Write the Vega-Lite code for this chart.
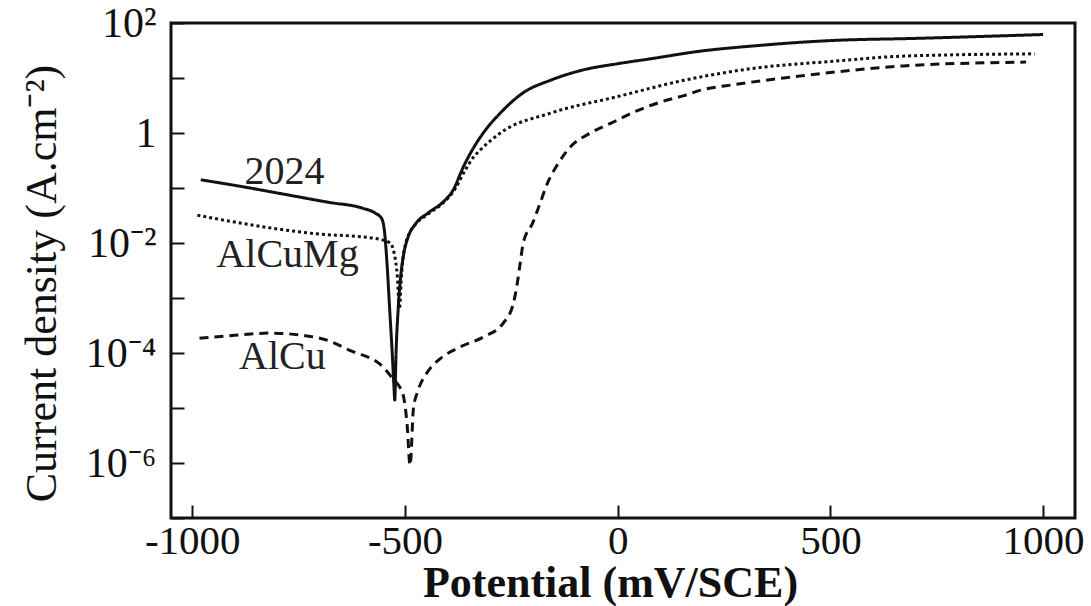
{
  "$schema": "https://vega.github.io/schema/vega-lite/v6.json",
  "width": 904,
  "height": 495,
  "autosize": {"type": "none"},
  "padding": {"left": 171, "top": 23, "right": 16, "bottom": 88},
  "background": "white",
  "config": {"view": {"stroke": "#111", "strokeWidth": 3}, "font": "Liberation Serif"},
  "datasets": {
    "curves": [
      {"alloy": "2024", "potential": -980, "current": 0.141},
      {"alloy": "2024", "potential": -880, "current": 0.105},
      {"alloy": "2024", "potential": -780, "current": 0.076},
      {"alloy": "2024", "potential": -680, "current": 0.055},
      {"alloy": "2024", "potential": -600, "current": 0.043},
      {"alloy": "2024", "potential": -570, "current": 0.035},
      {"alloy": "2024", "potential": -555, "current": 0.028},
      {"alloy": "2024", "potential": -548, "current": 0.0158},
      {"alloy": "2024", "potential": -542, "current": 0.004},
      {"alloy": "2024", "potential": -536, "current": 0.00063},
      {"alloy": "2024", "potential": -530, "current": 0.0001},
      {"alloy": "2024", "potential": -526, "current": 0.000025},
      {"alloy": "2024", "potential": -524, "current": 0.000014},
      {"alloy": "2024", "potential": -521, "current": 0.0001},
      {"alloy": "2024", "potential": -516, "current": 0.00063},
      {"alloy": "2024", "potential": -510, "current": 0.0025},
      {"alloy": "2024", "potential": -503, "current": 0.0063},
      {"alloy": "2024", "potential": -493, "current": 0.0126},
      {"alloy": "2024", "potential": -475, "current": 0.0224},
      {"alloy": "2024", "potential": -445, "current": 0.0355},
      {"alloy": "2024", "potential": -410, "current": 0.056},
      {"alloy": "2024", "potential": -387, "current": 0.091},
      {"alloy": "2024", "potential": -363, "current": 0.24},
      {"alloy": "2024", "potential": -340, "current": 0.52},
      {"alloy": "2024", "potential": -316, "current": 1.0},
      {"alloy": "2024", "potential": -276, "current": 2.3},
      {"alloy": "2024", "potential": -222, "current": 5.4},
      {"alloy": "2024", "potential": -158, "current": 9.1},
      {"alloy": "2024", "potential": -80, "current": 14.1},
      {"alloy": "2024", "potential": 0, "current": 18.2},
      {"alloy": "2024", "potential": 78, "current": 22.4},
      {"alloy": "2024", "potential": 196, "current": 30.9},
      {"alloy": "2024", "potential": 314, "current": 38},
      {"alloy": "2024", "potential": 500, "current": 47.9},
      {"alloy": "2024", "potential": 700, "current": 52.5},
      {"alloy": "2024", "potential": 1000, "current": 61.7},
      {"alloy": "AlCuMg", "potential": -988, "current": 0.032},
      {"alloy": "AlCuMg", "potential": -900, "current": 0.024},
      {"alloy": "AlCuMg", "potential": -800, "current": 0.018},
      {"alloy": "AlCuMg", "potential": -700, "current": 0.0145},
      {"alloy": "AlCuMg", "potential": -600, "current": 0.0129},
      {"alloy": "AlCuMg", "potential": -560, "current": 0.0117},
      {"alloy": "AlCuMg", "potential": -535, "current": 0.01},
      {"alloy": "AlCuMg", "potential": -525, "current": 0.0063},
      {"alloy": "AlCuMg", "potential": -518, "current": 0.0025},
      {"alloy": "AlCuMg", "potential": -513, "current": 0.00063},
      {"alloy": "AlCuMg", "potential": -509, "current": 0.002},
      {"alloy": "AlCuMg", "potential": -505, "current": 0.005},
      {"alloy": "AlCuMg", "potential": -498, "current": 0.01},
      {"alloy": "AlCuMg", "potential": -488, "current": 0.0158},
      {"alloy": "AlCuMg", "potential": -470, "current": 0.024},
      {"alloy": "AlCuMg", "potential": -445, "current": 0.034},
      {"alloy": "AlCuMg", "potential": -410, "current": 0.054},
      {"alloy": "AlCuMg", "potential": -385, "current": 0.089},
      {"alloy": "AlCuMg", "potential": -360, "current": 0.2},
      {"alloy": "AlCuMg", "potential": -340, "current": 0.355},
      {"alloy": "AlCuMg", "potential": -323, "current": 0.49},
      {"alloy": "AlCuMg", "potential": -276, "current": 1.0},
      {"alloy": "AlCuMg", "potential": -158, "current": 2.3},
      {"alloy": "AlCuMg", "potential": 0, "current": 4.6},
      {"alloy": "AlCuMg", "potential": 156, "current": 9.1},
      {"alloy": "AlCuMg", "potential": 314, "current": 14.8},
      {"alloy": "AlCuMg", "potential": 500, "current": 20},
      {"alloy": "AlCuMg", "potential": 672, "current": 25},
      {"alloy": "AlCuMg", "potential": 980, "current": 27.5},
      {"alloy": "AlCu", "potential": -983, "current": 0.000186},
      {"alloy": "AlCu", "potential": -900, "current": 0.00021},
      {"alloy": "AlCu", "potential": -818, "current": 0.00023},
      {"alloy": "AlCu", "potential": -700, "current": 0.000186},
      {"alloy": "AlCu", "potential": -630, "current": 0.000112},
      {"alloy": "AlCu", "potential": -552, "current": 0.000056},
      {"alloy": "AlCu", "potential": -530, "current": 0.000035},
      {"alloy": "AlCu", "potential": -505, "current": 0.000018},
      {"alloy": "AlCu", "potential": -495, "current": 0.000005},
      {"alloy": "AlCu", "potential": -488, "current": 0.00000091},
      {"alloy": "AlCu", "potential": -480, "current": 0.00001},
      {"alloy": "AlCu", "potential": -470, "current": 0.00002},
      {"alloy": "AlCu", "potential": -448, "current": 0.000044},
      {"alloy": "AlCu", "potential": -417, "current": 0.000079},
      {"alloy": "AlCu", "potential": -370, "current": 0.000129},
      {"alloy": "AlCu", "potential": -316, "current": 0.000195},
      {"alloy": "AlCu", "potential": -269, "current": 0.00035},
      {"alloy": "AlCu", "potential": -245, "current": 0.00081},
      {"alloy": "AlCu", "potential": -236, "current": 0.00186},
      {"alloy": "AlCu", "potential": -229, "current": 0.0044},
      {"alloy": "AlCu", "potential": -222, "current": 0.01},
      {"alloy": "AlCu", "potential": -200, "current": 0.023},
      {"alloy": "AlCu", "potential": -182, "current": 0.054},
      {"alloy": "AlCu", "potential": -165, "current": 0.123},
      {"alloy": "AlCu", "potential": -142, "current": 0.263},
      {"alloy": "AlCu", "potential": -111, "current": 0.562},
      {"alloy": "AlCu", "potential": -64, "current": 1.0},
      {"alloy": "AlCu", "potential": -10, "current": 1.585},
      {"alloy": "AlCu", "potential": 38, "current": 2.4},
      {"alloy": "AlCu", "potential": 100, "current": 3.63},
      {"alloy": "AlCu", "potential": 156, "current": 4.79},
      {"alloy": "AlCu", "potential": 196, "current": 6.03},
      {"alloy": "AlCu", "potential": 274, "current": 7.59},
      {"alloy": "AlCu", "potential": 434, "current": 10.96},
      {"alloy": "AlCu", "potential": 672, "current": 16.6},
      {"alloy": "AlCu", "potential": 960, "current": 19.5}
    ],
    "labels": [
      {"label": "2024", "potential": -783, "current": 0.195},
      {"label": "AlCuMg", "potential": -776, "current": 0.006},
      {"label": "AlCu", "potential": -788, "current": 0.000085}
    ]
  },
  "layer": [
    {
      "data": {"name": "curves"},
      "mark": {"type": "line", "strokeWidth": 3, "clip": true, "color": "#111", "interpolate": "monotone"},
      "encoding": {
        "x": {
          "field": "potential", "type": "quantitative",
          "scale": {"domain": [-1050, 1075], "nice": false, "zero": false},
          "axis": {
            "values": [-1000, -500, 0, 500, 1000],
            "labelExpr": "'' + datum.value",
            "labelFont": "Liberation Serif", "labelFontSize": 41, "labelColor": "#111",
            "labelFlush": false,
            "offset": -13,
            "tickSize": 13, "tickWidth": 2, "tickColor": "#111",
            "labelPadding": 3,
            "domain": false, "grid": false,
            "title": "Potential (mV/SCE)",
            "titleFont": "Liberation Serif", "titleFontSize": 44, "titleFontWeight": "bold", "titleColor": "#111",
            "titleX": 439, "titleY": 91, "titleBaseline": "alphabetic", "titleAlign": "center"
          }
        },
        "y": {
          "field": "current", "type": "quantitative",
          "scale": {"type": "log", "domain": [1e-7, 100], "nice": false},
          "axis": {
            "values": [1e-7, 1e-6, 1e-5, 1e-4, 1e-3, 1e-2, 1e-1, 1, 10, 100],
            "labelExpr": "round(log(datum.value)/LN10) == 2 ? '10²' : round(log(datum.value)/LN10) == 0 ? '1' : round(log(datum.value)/LN10) == -2 ? '10⁻²' : round(log(datum.value)/LN10) == -4 ? '10⁻⁴' : round(log(datum.value)/LN10) == -6 ? '10⁻⁶' : ''",
            "labelFont": "Liberation Serif", "labelFontSize": 42, "labelColor": "#111",
            "labelFlush": false,
            "offset": -13,
            "tickSize": 13, "tickWidth": 2, "tickColor": "#111",
            "labelPadding": 15,
            "domain": false, "grid": false,
            "title": "Current density (A.cm⁻²)",
            "titleFont": "Liberation Serif", "titleFontSize": 44, "titleFontWeight": "normal", "titleColor": "#111",
            "titleX": -142, "titleY": 260, "titleAngle": -90, "titleAlign": "center", "titleBaseline": "middle"
          }
        },
        "strokeDash": {
          "field": "alloy", "type": "nominal",
          "scale": {"domain": ["2024", "AlCuMg", "AlCu"], "range": [[1, 0], [3, 3], [9, 6]]},
          "legend": null
        }
      }
    },
    {
      "data": {"name": "labels"},
      "mark": {"type": "text", "fontSize": 40, "font": "Liberation Serif", "color": "#222", "align": "center", "baseline": "middle"},
      "encoding": {
        "x": {"field": "potential", "type": "quantitative"},
        "y": {"field": "current", "type": "quantitative"},
        "text": {"field": "label"}
      }
    }
  ]
}
